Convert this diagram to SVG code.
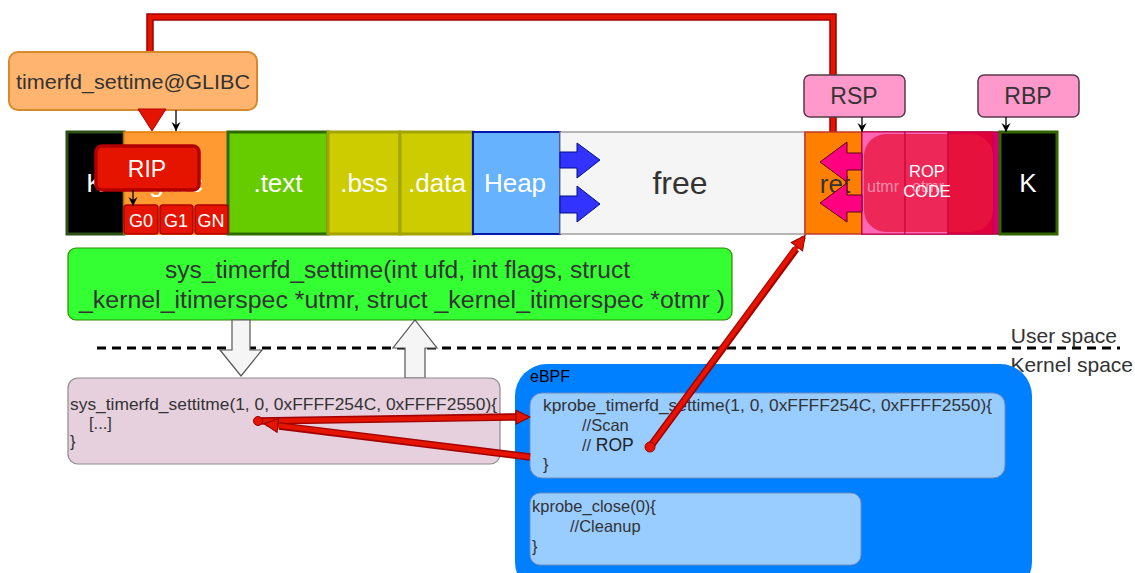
<svg xmlns="http://www.w3.org/2000/svg" width="1135" height="573" viewBox="0 0 1135 573">
<style>
text{font-family:"Liberation Sans",Arial,sans-serif}
.seg{font-size:26px;fill:#fff;text-anchor:middle}
.code{font-size:16.5px;fill:#333}
.reg{fill:#ff99cc;stroke:#5a3a48;stroke-width:1.5}
.regt{font-size:23px;fill:#333;text-anchor:middle}
.g{fill:#e51400;stroke:#b20000;stroke-width:1.5}
.gt{font-size:18px;fill:#fff;text-anchor:middle}
.flowo{fill:none;stroke:#a00000;stroke-width:7.5}
.flowi{fill:none;stroke:#e51400;stroke-width:4.5}
.thin{fill:none;stroke:#000;stroke-width:1.3}
.blue{fill:#3333ff;stroke:#001080;stroke-width:1}
.mag{fill:#ff0080;stroke:#5a0020;stroke-width:1}
.white{fill:#f5f5f5;stroke:#555;stroke-width:1.2}
.lb{fill:#99ccff;stroke:#6c8ebf;stroke-width:1}
</style>
<defs>
<marker id="ra" markerUnits="userSpaceOnUse" markerWidth="16" markerHeight="16" refX="13" refY="8" orient="auto">
<path d="M1,1 L15,8 L1,15 z" fill="#e51400" stroke="#8b0000" stroke-width="1"/>
</marker>
<marker id="ba" markerUnits="userSpaceOnUse" markerWidth="10" markerHeight="10" refX="9" refY="5" orient="auto">
<path d="M0,0.5 L9,5 L0,9.5 L3,5 z" fill="#000"/>
</marker>
</defs>

<g id="connectors-back">
<path class="flowo" d="M833,137 V17 H150 V110"/>
<path class="flowi" d="M833,137 V17 H150 V110"/>
</g>

<g id="glibc">
<rect x="9" y="52" width="248" height="58" rx="9" fill="#ffb570" stroke="#d68a2b" stroke-width="2"/>
<text x="133" y="89" font-size="20" fill="#333" text-anchor="middle" textLength="234" lengthAdjust="spacingAndGlyphs">timerfd_settime@GLIBC</text>
</g>
<polygon id="glibc-arrowhead" points="138,109 166,109 152,131" fill="#e51400" stroke="#b20000" stroke-width="1"/>

<g id="memory">
<g id="k-left"><rect x="67" y="132" width="57" height="102" fill="#000" stroke="#2d5016" stroke-width="3"/><text class="seg" x="95" y="192">K</text></g>
<g id="libc"><rect x="124" y="132" width="104" height="102" fill="#ff9a33" stroke="#e07b00" stroke-width="1.5"/><text class="seg" x="176" y="192">glibc</text></g>
<g id="text"><rect x="228" y="132" width="100" height="102" fill="#66cc00" stroke="#2d6a00" stroke-width="3"/><text class="seg" x="278" y="192">.text</text></g>
<g id="bss"><rect x="328" y="132" width="72" height="102" fill="#cccc00" stroke="#a3a300" stroke-width="3"/><text class="seg" x="364" y="192">.bss</text></g>
<g id="data"><rect x="400" y="132" width="73" height="102" fill="#cccc00" stroke="#a3a300" stroke-width="3"/><text class="seg" x="437" y="192">.data</text></g>
<g id="heap"><rect x="473" y="132" width="87" height="102" fill="#66b2ff" stroke="#0018b0" stroke-width="2"/><text class="seg" x="515" y="192">Heap</text></g>
<g id="free"><rect x="560" y="132" width="245" height="102" fill="#f5f5f5" stroke="#888" stroke-width="1.2"/><text x="680" y="194" font-size="32" fill="#333" text-anchor="middle">free</text></g>
<g id="heap-arrows">
<path class="blue" d="M560,152 H577 V143 L600,160 L577,178 V168 H560 z"/>
<path class="blue" d="M560,196 H577 V186 L600,204 L577,222 V213 H560 z"/>
</g>
<g id="ret"><rect x="805" y="132" width="57" height="102" fill="#ff8000" stroke="#c0392b" stroke-width="1.5"/><text x="835" y="193" font-size="26" fill="#333" text-anchor="middle">ret</text></g>
<g id="stack">
<rect x="862" y="132" width="138" height="102" fill="#d4006a" stroke="#a0003c" stroke-width="1.5"/>
<rect x="862" y="132" width="43" height="102" fill="#ff66b3" stroke="#c0004a" stroke-width="1"/>
<rect x="905" y="132" width="43" height="102" fill="#ff66b3" stroke="#c0004a" stroke-width="1"/>
<rect x="948" y="132" width="45" height="102" fill="#e0003a" stroke="#c0004a" stroke-width="1"/>
<rect x="864" y="134" width="129" height="98" rx="22" fill="#e8163f" fill-opacity="0.78"/>
<line x1="905" y1="134" x2="905" y2="232" stroke="#b0002e" stroke-width="1" stroke-opacity="0.6"/>
<line x1="948" y1="134" x2="948" y2="232" stroke="#b0002e" stroke-width="1" stroke-opacity="0.6"/>
<text x="883" y="192" font-size="16" fill="#f58aa6" text-anchor="middle">utmr</text>
<text x="928" y="192" font-size="16" fill="#f58aa6" text-anchor="middle">otmr</text>
<text x="927" y="177" font-size="16.5" fill="#fff" text-anchor="middle">ROP</text>
<text x="927" y="197" font-size="16.5" fill="#fff" text-anchor="middle">CODE</text>
</g>
<g id="stack-arrows">
<path class="mag" d="M862,153 H847 V142 L820,162 L847,182 V170 H862 z"/>
<path class="mag" d="M862,195 H847 V183 L820,203 L847,222 V212 H862 z"/>
</g>
<g id="k-right"><rect x="1000" y="132" width="57" height="102" fill="#000" stroke="#336600" stroke-width="3"/><text class="seg" x="1028" y="192">K</text></g>
</g>

<g id="gadgets">
<g id="g0"><rect class="g" x="124" y="205" width="34" height="29" rx="3"/><text class="gt" x="141" y="227">G0</text></g>
<g id="g1"><rect class="g" x="160" y="205" width="33" height="29" rx="3"/><text class="gt" x="176" y="227">G1</text></g>
<g id="gn"><rect class="g" x="195" y="205" width="33" height="29" rx="3"/><text class="gt" x="211" y="227">GN</text></g>
</g>

<g id="rip"><rect x="96" y="146" width="103" height="44" rx="6" fill="#e51400" stroke="#b20000" stroke-width="3.5"/><text x="147" y="177" font-size="23" fill="#fff" text-anchor="middle">RIP</text></g>

<g id="rsp"><rect class="reg" x="804" y="75" width="101" height="42" rx="6"/><text class="regt" x="854" y="104">RSP</text></g>
<g id="rbp"><rect class="reg" x="978" y="75" width="101" height="42" rx="6"/><text class="regt" x="1028" y="104">RBP</text></g>

<g id="pointer-arrows">
<line class="thin" x1="176" y1="110" x2="176" y2="131" marker-end="url(#ba)"/>
<line class="thin" x1="133" y1="190" x2="133" y2="206" marker-end="url(#ba)"/>
<line class="thin" x1="862" y1="117" x2="862" y2="132" marker-end="url(#ba)"/>
<line class="thin" x1="1006" y1="117" x2="1006" y2="132" marker-end="url(#ba)"/>
</g>

<g id="syscall">
<rect x="68" y="248" width="664" height="72" rx="8" fill="#33ff33" stroke="#2d8a00" stroke-width="1.2"/>
<text x="165" y="278" font-size="23" fill="#333" textLength="465" lengthAdjust="spacingAndGlyphs">sys_timerfd_settime(int ufd, int flags, struct</text>
<text x="79" y="308" font-size="23" fill="#333" textLength="646" lengthAdjust="spacingAndGlyphs">_kernel_itimerspec *utmr, struct _kernel_itimerspec *otmr )</text>
</g>

<g id="boundary">
<line x1="97" y1="348" x2="1120" y2="348" stroke="#000" stroke-width="3" stroke-dasharray="9,6"/>
<text x="1117" y="343" font-size="21" fill="#333" text-anchor="end">User space</text>
<text x="1133" y="372" font-size="21" fill="#333" text-anchor="end">Kernel space</text>
</g>

<g id="syscall-arrows">
<path class="white" d="M232,320 H250 V350 H262 L241,376 L220,350 H232 z"/>
<path class="white" d="M405,378 H425 V348 H437 L415,320 L393,348 H405 z"/>
</g>

<g id="sys-impl">
<rect x="68" y="378" width="432" height="86" rx="10" fill="#e6d0de" stroke="#8c8c8c" stroke-width="1.2"/>
<text class="code" x="70" y="410" textLength="427" lengthAdjust="spacingAndGlyphs">sys_timerfd_settitme(1, 0, 0xFFFF254C, 0xFFFF2550){</text>
<text class="code" x="89" y="429">[...]</text>
<text class="code" x="70" y="447">}</text>
</g>

<g id="ebpf">
<rect x="515" y="364" width="517" height="230" rx="32" fill="#007fff"/>
<text x="530" y="382" font-size="16" fill="#000">eBPF</text>
<g id="kprobe-settime">
<rect class="lb" x="530" y="393" width="475" height="85" rx="12"/>
<text class="code" x="543" y="411" textLength="449" lengthAdjust="spacingAndGlyphs">kprobe_timerfd_settime(1, 0, 0xFFFF254C, 0xFFFF2550){</text>
<text class="code" x="582" y="431">//Scan</text>
<text class="code" x="582" y="451">// <tspan fill="#222" font-size="17.5">ROP</tspan></text>
<text class="code" x="543" y="470">}</text>
</g>
<g id="kprobe-close">
<rect class="lb" x="530" y="493" width="331" height="72" rx="10"/>
<text class="code" x="532" y="512">kprobe_close(0){</text>
<text class="code" x="570" y="532">//Cleanup</text>
<text class="code" x="532" y="552">}</text>
</g>
</g>

<g id="connectors">
<line class="flowo" x1="258" y1="421" x2="516" y2="417"/>
<line class="flowi" x1="258" y1="421" x2="528" y2="417" marker-end="url(#ra)"/>
<line class="flowo" x1="530" y1="457" x2="279" y2="426"/>
<line class="flowi" x1="530" y1="457" x2="266" y2="424" marker-end="url(#ra)"/>
<line class="flowo" x1="650" y1="447" x2="796" y2="249"/>
<line class="flowi" x1="650" y1="447" x2="804" y2="237" marker-end="url(#ra)"/>
<circle cx="258" cy="421" r="4.5" fill="#e51400" stroke="#900" stroke-width="1"/>
<circle cx="650" cy="447" r="5" fill="#e51400" stroke="#900" stroke-width="1"/>
</g>
</svg>
